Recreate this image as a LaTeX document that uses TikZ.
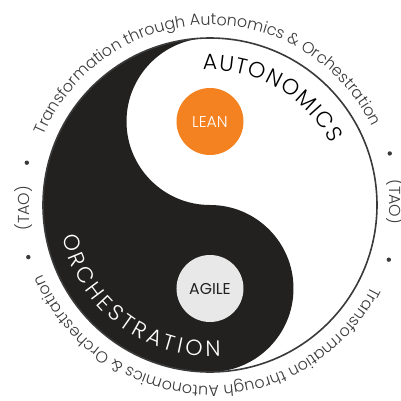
\documentclass[tikz,border=0pt]{standalone}
\usepackage{fontspec}
\setmainfont{Poppins}
\newfontfamily\ringfont{Poppins Light}
\usetikzlibrary{decorations.text}
\definecolor{yinblack}{HTML}{222120}
\definecolor{leanorange}{HTML}{F58220}
\definecolor{agilegray}{HTML}{E8E8E8}
\definecolor{ringgray}{HTML}{3A3A3A}
\begin{document}
\begin{tikzpicture}[x=0.75pt,y=0.75pt,
    ringtext/.style={decorate,decoration={text along path,text align=center,
      text={|\ringfont\fontsize{11.9}{14}\selectfont\color{ringgray}|#1}}},
    bigtext/.style 2 args={decorate,decoration={text along path,text align=fit to path,
      text={|\ringfont\fontsize{16.5}{19}\selectfont\color{#1}|#2}}}]
  \useasboundingbox (-210,-196) rectangle (191,205);

  \fill[white] (0,0) circle (167);
  \fill[yinblack] (0,167) arc[start angle=90,end angle=270,radius=167]
    arc[start angle=270,end angle=450,radius=83.5]
    arc[start angle=270,end angle=90,radius=83.5] -- cycle;
  \draw[ringgray,line width=1.2pt] (0,0) circle (167);

  \begin{scope}[every node/.style={circle,minimum size=50.25pt,inner sep=0pt,font=\fontsize{11.8}{14}\selectfont}]
    \node[fill=leanorange,text=white,font=\ringfont\fontsize{11.8}{14}\selectfont] (lean) at (0,83.5) {LEAN};
    \node[fill=agilegray,text=yinblack] (agile) at (0,-83.5) {AGILE};
  \end{scope}

  \path[bigtext={black}{AUTONOMICS}] (93:135) arc[start angle=93,end angle=27,radius=135];
  \path[bigtext={white}{ORCHESTRATION}] (192:151) arc[start angle=192,end angle=274,radius=151];

  \path[ringtext={Transformation through Autonomics {\&} Orchestration}]
    (171:180) arc[start angle=171,end angle=12,radius=180];
  \path[ringtext={Transformation through Autonomics {\&} Orchestration}]
    (348:181) arc[start angle=348,end angle=188,radius=181];

  \begin{scope}[every node/.style={text=ringgray,inner sep=0pt,font=\ringfont\fontsize{11.9}{14}\selectfont}]
    \node[rotate=-90] (taoeast) at (1:185) {(TAO)};
    \node[rotate=90] (taowest) at (181:186) {(TAO)};
  \end{scope}
  \foreach \a/\r in {16/187,-17/187,167/188,196/189}
    \fill[ringgray] (\a:\r) circle (2.2);
\end{tikzpicture}
\end{document}
